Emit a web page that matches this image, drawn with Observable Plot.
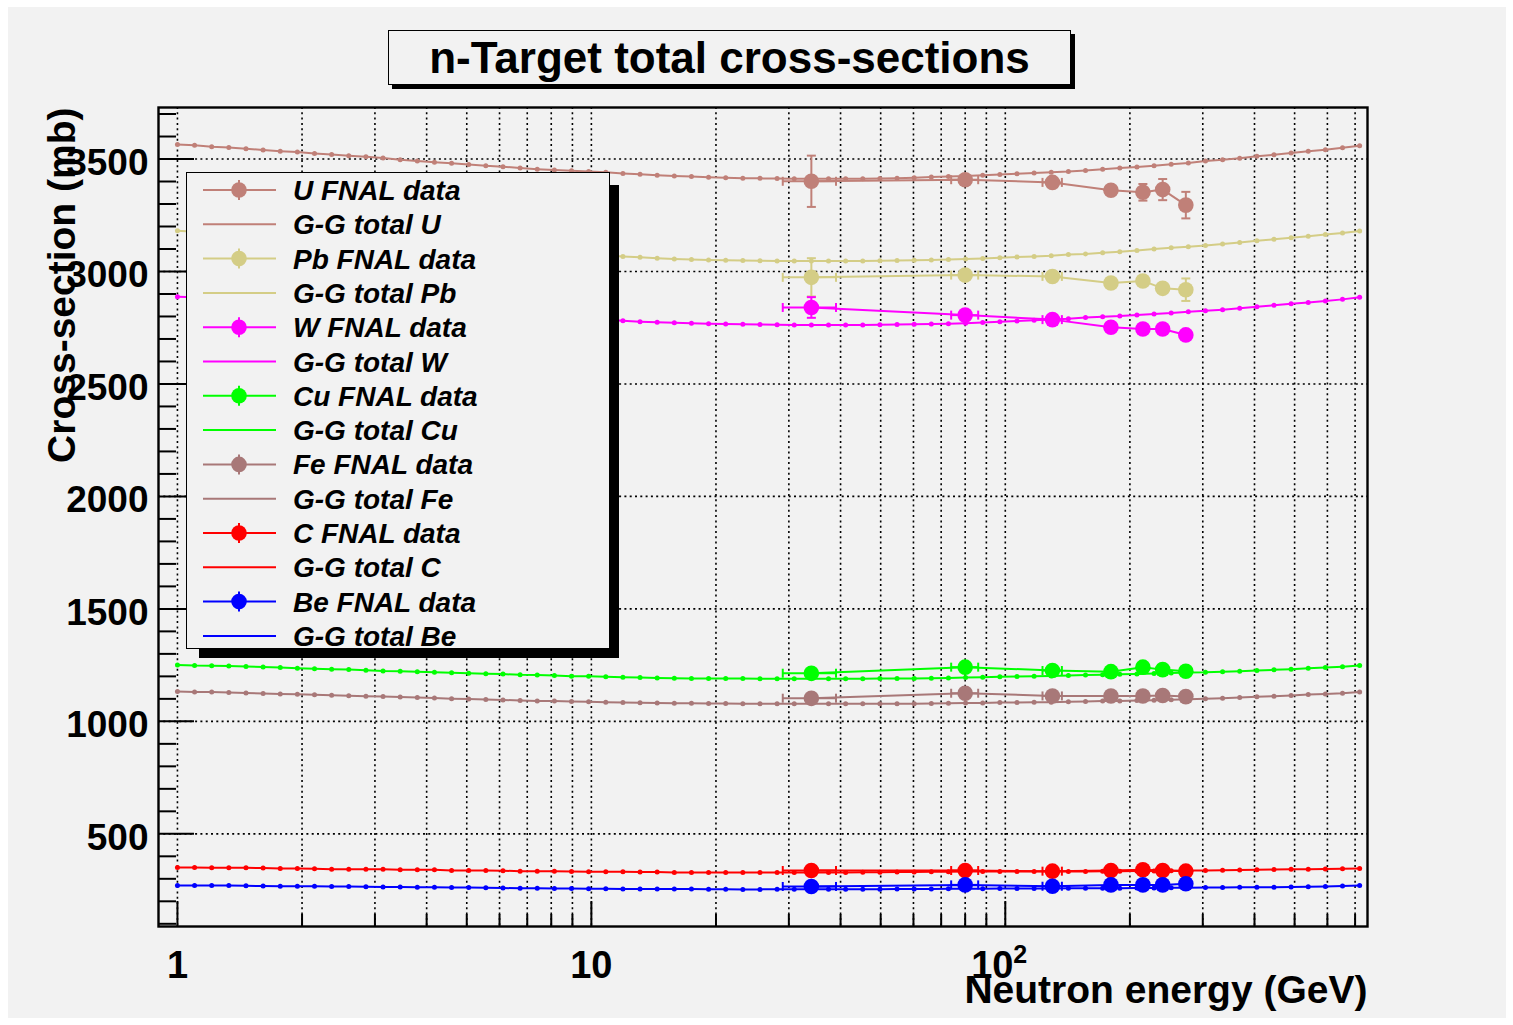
<!DOCTYPE html>
<html>
<head>
<meta charset="utf-8">
<script src="https://cdn.jsdelivr.net/npm/d3@7"></script>
<script src="https://cdn.jsdelivr.net/npm/@observablehq/plot@0.6"></script>
<style>
html, body { margin: 0; padding: 0; background: #ffffff; }
#canvas { position: relative; width: 1513px; height: 1025px; overflow: hidden; font-family: "Liberation Sans", Arial, Helvetica, sans-serif; }
#bg { position: absolute; left: 8px; top: 7px; width: 1498px; height: 1011px; background: #f2f2f2; }
#chart { position: absolute; left: 0; top: 0; }
#title { position: absolute; left: 388px; top: 30px; width: 681px; height: 53px; border: 1px solid #000; background: #f2f2f2;
  box-shadow: 4px 4px 0 0 #000; display: flex; align-items: center; justify-content: center;
  font-weight: bold; font-size: 44px; color: #000; }
#legend { position: absolute; left: 186px; top: 172px; width: 422px; height: 475px; border: 1px solid #000; background: #f2f2f2;
  box-shadow: 11px 11px 0 -2px #000; }
#legend svg { display: block; overflow: visible; }
</style>
</head>
<body>
<div id="canvas">
  <div id="bg"></div>
  <div id="chart"></div>
  <div id="title">n-Target total cross-sections</div>
  <div id="legend"></div>
</div>
<script>
// ---------------- data ----------------
const targets = ["U", "Pb", "W", "Cu", "Fe", "C", "Be"];
const colors  = ["#c08078", "#d4cd86", "#ff00ff", "#00ff00", "#a87878", "#ff0000", "#0000ff"];

// Glauber-Gribov (G-G) total cross-section curves, energies in GeV
const energyGG = [1, 1.1, 1.21, 1.331, 1.4641, 1.6105, 1.7716, 1.9487, 2.1436, 2.3579,
  2.5937, 2.8531, 3.1384, 3.4523, 3.7975, 4.1772, 4.595, 5.0545, 5.5599, 6.1159,
  6.7275, 7.4002, 8.1403, 8.9543, 9.8497, 10.835, 11.918, 13.11, 14.421, 15.863,
  17.449, 19.194, 21.114, 23.225, 25.548, 28.102, 30.913, 34.004, 37.404, 41.145,
  45.259, 49.785, 54.764, 60.24, 66.264, 72.89, 80.18, 88.197, 97.017, 106.72,
  117.39, 129.13, 142.04, 156.25, 171.87, 189.06, 207.97, 228.76, 251.64, 276.8,
  304.48, 334.93, 368.42, 405.27, 445.79, 490.37, 539.41, 593.35, 652.68, 717.95];

const ggU = [3565,3561,3555,3551,3546,3540,3535,3531,3525,3520,
  3515,3510,3504,3497,3491,3486,3481,3476,3470,3466,
  3460,3455,3451,3448,3445,3441,3436,3432,3428,3425,
  3422,3419,3417,3415,3414,3413,3412,3412,3412,3412,
  3412,3413,3415,3417,3420,3422,3424,3428,3431,3434,
  3438,3441,3444,3449,3455,3460,3465,3470,3477,3482,
  3491,3497,3503,3512,3519,3527,3535,3541,3550,3559];
const ggPb = [3181,3177,3172,3169,3164,3159,3154,3151,3146,3141,
  3137,3132,3127,3121,3116,3111,3107,3102,3097,3093,
  3088,3084,3080,3078,3075,3071,3067,3063,3059,3056,
  3053,3051,3050,3049,3048,3047,3047,3047,3047,3047,
  3047,3048,3049,3050,3051,3053,3055,3058,3061,3064,
  3067,3070,3075,3078,3083,3088,3093,3100,3105,3110,
  3115,3122,3129,3137,3143,3150,3157,3164,3171,3180];
const ggW = [2888,2885,2880,2876,2872,2867,2863,2860,2855,2851,
  2847,2842,2837,2832,2827,2823,2818,2814,2809,2806,
  2801,2797,2793,2791,2789,2785,2781,2777,2774,2772,
  2770,2768,2766,2765,2764,2763,2762,2762,2762,2762,
  2762,2763,2764,2765,2767,2768,2770,2773,2777,2780,
  2783,2787,2790,2795,2799,2802,2807,2811,2815,2821,
  2825,2830,2836,2843,2850,2856,2862,2869,2876,2885];
const ggCu = [1251,1248,1247,1246,1244,1242,1239,1236,1234,1232,
  1230,1227,1224,1223,1221,1218,1216,1214,1212,1210,
  1207,1206,1204,1201,1200,1198,1196,1195,1193,1192,
  1191,1191,1190,1190,1189,1189,1189,1189,1189,1189,
  1189,1190,1190,1191,1192,1193,1195,1196,1198,1199,
  1201,1202,1204,1206,1207,1209,1211,1213,1215,1217,
  1218,1221,1223,1226,1229,1232,1236,1239,1243,1248];
const ggFe = [1133,1131,1130,1128,1126,1124,1122,1120,1118,1116,
  1114,1112,1110,1108,1106,1104,1101,1099,1097,1095,
  1093,1091,1090,1088,1087,1085,1084,1083,1082,1081,
  1080,1079,1079,1078,1078,1078,1078,1078,1078,1078,
  1078,1078,1078,1078,1079,1081,1082,1082,1084,1084,
  1085,1085,1087,1088,1090,1091,1093,1094,1096,1098,
  1100,1103,1106,1109,1112,1115,1119,1122,1125,1130];
const ggC = [350,350,349,349,349,348,346,346,345,343,
  343,343,342,340,340,340,337,337,337,336,
  334,334,334,333,331,331,331,330,330,328,
  328,328,328,328,328,328,328,328,328,328,
  329,329,330,330,331,331,332,332,332,332,
  332,333,333,333,334,334,335,335,336,337,
  337,338,339,340,341,342,343,344,345,346];
const ggBe = [270,270,270,270,269,268,267,267,267,266,
  266,265,264,264,263,262,261,261,260,259,
  258,258,257,257,256,256,255,255,255,255,
  255,254,254,253,253,254,254,254,254,254,
  254,254,255,255,255,256,256,256,257,257,
  257,257,258,258,258,258,259,259,260,260,
  261,261,262,262,263,264,265,266,268,270];

// FNAL data
const energyFNAL    = [34, 80, 130, 180, 215, 240, 273];
const energyErrFNAL = [5, 6, 7, 0, 0, 0, 0];
const fnalU  = [3401, 3408, 3396, 3361, 3352, 3364, 3295];
const errU   = [114, 15, 15, 15, 37, 47, 59];
const fnalPb = [2974, 2984, 2978, 2949, 2958, 2925, 2919];
const errPb  = [85, 15, 15, 15, 15, 15, 50];
const fnalW  = [2840, 2806, 2786, 2752, 2744, 2744, 2718];
const errW   = [46, 15, 15, 15, 15, 15, 15];
const fnalCu = [1214, 1241, 1226, 1221, 1241, 1230, 1223];
const errCu  = [10, 10, 10, 10, 10, 10, 10];
const fnalFe = [1103, 1125, 1113, 1113, 1113, 1115, 1110];
const errFe  = [10, 10, 10, 10, 10, 10, 10];
const fnalC  = [337, 337, 334, 337, 340, 337, 334];
const errC   = [5, 5, 5, 5, 5, 5, 5];
const fnalBe = [266, 273, 267, 273, 273, 273, 278];
const errBe  = [5, 5, 5, 5, 5, 5, 5];

// axes
const xMajorTicks = [1, 10, 100];
const xTickBase = ["1", "10", "10"];
const xTickExponent = ["", "", "2"];
const xMinorTicks = [2,3,4,5,6,7,8,9,20,30,40,50,60,70,80,90,200,300,400,500,600,700];
const yMajorTicks = [500, 1000, 1500, 2000, 2500, 3000, 3500];
const yMinorTicks = [100,200,300,400,600,700,800,900,1100,1200,1300,1400,1600,1700,1800,1900,
  2100,2200,2300,2400,2600,2700,2800,2900,3100,3200,3300,3400,3600,3700];
const xTitle = "Neutron energy (GeV)";
const yTitle = "Cross-section (mb)";

// ---------------- tables ----------------
const ggSeries = [ggU, ggPb, ggW, ggCu, ggFe, ggC, ggBe];
const fnalSeries = [fnalU, fnalPb, fnalW, fnalCu, fnalFe, fnalC, fnalBe];
const fnalErrSeries = [errU, errPb, errW, errCu, errFe, errC, errBe];

const ggTable = targets.flatMap((t, k) => energyGG.map((e, i) => ({target: t, E: e, sigma: ggSeries[k][i]})));
const fnalTable = targets.flatMap((t, k) => energyFNAL.map((e, i) => ({
  target: t, E: e, dE: energyErrFNAL[i], sigma: fnalSeries[k][i], dS: fnalErrSeries[k][i]
})));
const withYErr = fnalTable.filter(d => d.dS > 0);
const withXErr = fnalTable.filter(d => d.dE > 0);
const xLabelTable = xMajorTicks.map((v, i) => ({v, base: xTickBase[i], exp: xTickExponent[i]}));
const xLabelsPlain = xLabelTable.filter(d => !d.exp);
const xLabelsPow = xLabelTable.filter(d => d.exp);

const capH = {draw(ctx) { ctx.moveTo(-4.5, 0); ctx.lineTo(4.5, 0); }};
const capV = {draw(ctx) { ctx.moveTo(0, -4.5); ctx.lineTo(0, 4.5); }};

const FONT = '"Liberation Sans", Arial, Helvetica, sans-serif';
const gridStyle = {stroke: "#000", strokeOpacity: 1, strokeWidth: 1.6, strokeDasharray: "2,3.3"};

const plot = Plot.plot({
  width: 1513,
  height: 1025,
  marginLeft: 158,
  marginRight: 146,
  marginTop: 107,
  marginBottom: 99,
  style: {background: "transparent", fontFamily: FONT, overflow: "visible", color: "#000"},
  x: {type: "log", domain: [0.9, 750]},
  y: {domain: [88, 3729]},
  color: {domain: targets, range: colors},
  marks: [
    Plot.gridX([...xMajorTicks, ...xMinorTicks], gridStyle),
    Plot.gridY(yMajorTicks, gridStyle),
    // inside ticks
    Plot.axisY(yMajorTicks, {tickSize: -36, tickFormat: () => "", label: null, strokeWidth: 2}),
    Plot.axisY(yMinorTicks, {tickSize: -18, tickFormat: () => "", label: null, strokeWidth: 2}),
    Plot.axisX(xMajorTicks, {tickSize: -25, tickFormat: () => "", label: null, strokeWidth: 2}),
    Plot.axisX(xMinorTicks, {tickSize: -12, tickFormat: () => "", label: null, strokeWidth: 2}),
    // tick labels
    Plot.axisY(yMajorTicks, {tickSize: 0, tickPadding: 10, dy: 4, fontSize: 37, fontWeight: "bold", label: null, tickFormat: d => String(d)}),
    Plot.text(xLabelsPlain, {x: "v", frameAnchor: "bottom", text: "base", lineAnchor: "top",
      dy: 25, fontSize: 38, fontWeight: "bold", fill: "#000"}),
    Plot.text(xLabelsPow, {x: "v", frameAnchor: "bottom", text: "base", lineAnchor: "top",
      dx: -13, dy: 25, fontSize: 38, fontWeight: "bold", fill: "#000"}),
    Plot.text(xLabelsPow, {x: "v", frameAnchor: "bottom", text: "exp", lineAnchor: "top", textAnchor: "start",
      dx: 8, dy: 19, fontSize: 25, fontWeight: "bold", fill: "#000"}),
    Plot.frame({stroke: "#000", strokeWidth: 2.4}),
    // G-G theory curves
    Plot.line(ggTable, {x: "E", y: "sigma", z: "target", stroke: "target", strokeWidth: 2}),
    Plot.dot(ggTable, {x: "E", y: "sigma", fill: "target", r: 2.5}),
    // FNAL data
    Plot.line(fnalTable, {x: "E", y: "sigma", z: "target", stroke: "target", strokeWidth: 2}),
    Plot.ruleX(withYErr, {x: "E", y1: d => d.sigma - d.dS, y2: d => d.sigma + d.dS, stroke: "target", strokeWidth: 2}),
    Plot.dot(withYErr, {x: "E", y: d => d.sigma - d.dS, symbol: capH, fill: "none", stroke: "target", strokeWidth: 2}),
    Plot.dot(withYErr, {x: "E", y: d => d.sigma + d.dS, symbol: capH, fill: "none", stroke: "target", strokeWidth: 2}),
    Plot.ruleY(withXErr, {y: "sigma", x1: d => d.E - d.dE, x2: d => d.E + d.dE, stroke: "target", strokeWidth: 2}),
    Plot.dot(withXErr, {x: d => d.E - d.dE, y: "sigma", symbol: capV, fill: "none", stroke: "target", strokeWidth: 2}),
    Plot.dot(withXErr, {x: d => d.E + d.dE, y: "sigma", symbol: capV, fill: "none", stroke: "target", strokeWidth: 2}),
    Plot.dot(fnalTable, {x: "E", y: "sigma", fill: "target", r: 7.8}),
    // axis titles
    Plot.text([xTitle], {frameAnchor: "bottom-right", text: d => d, textAnchor: "end", lineAnchor: "middle",
      dy: 64, fontSize: 39, fontWeight: "bold", fill: "#000"}),
    Plot.text([yTitle], {frameAnchor: "top-left", text: d => d, rotate: -90, textAnchor: "end", lineAnchor: "middle",
      dx: -96, fontSize: 39, fontWeight: "bold", fill: "#000"})
  ]
});
document.getElementById("chart").appendChild(plot);

// ---------------- legend ----------------
const legendEntries = targets.flatMap((t, k) => [
  {label: `${t} FNAL data`, color: colors[k], marker: true},
  {label: `G-G total ${t}`, color: colors[k], marker: false}
]);
const leg = d3.select("#legend").append("svg").attr("width", 422).attr("height", 475);
legendEntries.forEach((e, k) => {
  const cy = 17 + k * 34.3;
  const g = leg.append("g").attr("transform", `translate(0,${cy})`);
  g.append("line").attr("x1", 16).attr("x2", 89).attr("y1", 0).attr("y2", 0)
    .attr("stroke", e.color).attr("stroke-width", 2);
  if (e.marker) {
    g.append("line").attr("x1", 52).attr("x2", 52).attr("y1", -10).attr("y2", 10)
      .attr("stroke", e.color).attr("stroke-width", 2);
    g.append("circle").attr("cx", 52).attr("cy", 0).attr("r", 7.8).attr("fill", e.color);
  }
  g.append("text").attr("x", 106).attr("y", 0).attr("dy", "0.36em")
    .attr("font-family", FONT).attr("font-size", 28).attr("font-weight", "bold").attr("font-style", "italic")
    .attr("fill", "#000").text(e.label);
});
</script>
</body>
</html>
